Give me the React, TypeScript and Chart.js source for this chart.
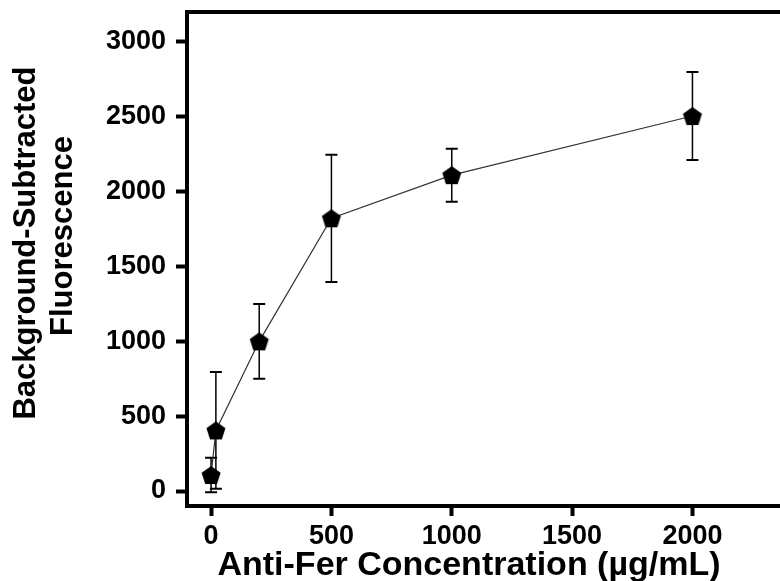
import React, { useEffect, useRef } from "react";
import { Chart, registerables } from "chart.js";
Chart.register(...registerables);

const concentrations = [0, 20, 200, 500, 1000, 2000];
const fluorescence = [107, 405, 1000, 1822, 2110, 2505];
const errors = [115, 390, 250, 425, 177, 294];
const xTickValues = [0, 500, 1000, 1500, 2000];
const yTickValues = [0, 500, 1000, 1500, 2000, 2500, 3000];
const xRange = [-100, 2500];
const yRange = [-100, 3200];
const xTitle = "Anti-Fer Concentration (µg/mL)";
const yTitleLines = ["Background-Subtracted", "Fluorescence"];

const FONT = '"Liberation Sans", Arial, sans-serif';

function makePentagon(r: number): HTMLCanvasElement {
  const size = Math.ceil(r * 2 + 4);
  const c = document.createElement("canvas");
  c.width = size;
  c.height = size;
  const ctx = c.getContext("2d")!;
  const cx = size / 2;
  const cy = size / 2 + r * 0.09;
  ctx.beginPath();
  for (let i = 0; i < 5; i++) {
    const a = -Math.PI / 2 + (i * 2 * Math.PI) / 5;
    const px = cx + r * Math.cos(a);
    const py = cy + r * Math.sin(a);
    if (i === 0) ctx.moveTo(px, py);
    else ctx.lineTo(px, py);
  }
  ctx.closePath();
  ctx.fillStyle = "#000";
  ctx.fill();
  return c;
}

const errorBarPlugin = {
  id: "errorBars",
  beforeDatasetsDraw(chart: any) {
    const ctx = chart.ctx;
    const xs = chart.scales.x;
    const ys = chart.scales.y;
    ctx.save();
    ctx.strokeStyle = "#000";
    concentrations.forEach((c, i) => {
      const x = xs.getPixelForValue(c);
      const yt = ys.getPixelForValue(fluorescence[i] + errors[i]);
      const yb = ys.getPixelForValue(fluorescence[i] - errors[i]);
      ctx.lineWidth = 1.5;
      ctx.beginPath();
      ctx.moveTo(x, yt);
      ctx.lineTo(x, yb);
      ctx.stroke();
      ctx.lineWidth = 2;
      ctx.beginPath();
      ctx.moveTo(x - 6, yt);
      ctx.lineTo(x + 6, yt);
      ctx.moveTo(x - 6, yb);
      ctx.lineTo(x + 6, yb);
      ctx.stroke();
    });
    ctx.restore();
  },
};

const framePlugin = {
  id: "frameAndTitles",
  afterDraw(chart: any) {
    const ctx = chart.ctx;
    const a = chart.chartArea;
    ctx.save();
    ctx.strokeStyle = "#000";
    ctx.lineWidth = 4;
    ctx.beginPath();
    ctx.moveTo(a.left - 2, a.top);
    ctx.lineTo(a.right, a.top);
    ctx.lineTo(a.right, a.bottom);
    ctx.stroke();

    ctx.fillStyle = "#000";
    ctx.font = `bold 34px ${FONT}`;
    ctx.textAlign = "center";
    ctx.textBaseline = "alphabetic";
    ctx.fillText(xTitle, 469, 575);

    ctx.font = `bold 31px ${FONT}`;
    const yPos = [
      [35, 243],
      [72, 236],
    ];
    yTitleLines.forEach((t, i) => {
      ctx.save();
      ctx.translate(yPos[i][0], yPos[i][1]);
      ctx.rotate(-Math.PI / 2);
      ctx.fillText(t, 0, 0);
      ctx.restore();
    });
    ctx.restore();
  },
};

export default function App() {
  const ref = useRef<HTMLCanvasElement>(null);
  useEffect(() => {
    if (!ref.current) return;
    const pent = makePentagon(10);
    const chart = new Chart(ref.current, {
      type: "line",
      data: {
        datasets: [
          {
            data: concentrations.map((c, i) => ({ x: c, y: fluorescence[i] })),
            borderColor: "#333",
            borderWidth: 1.2,
            backgroundColor: "#000",
            pointStyle: pent as any,
            pointRadius: 10,
            showLine: true,
            tension: 0,
          },
        ],
      },
      options: {
        animation: false,
        responsive: false,
        devicePixelRatio: 1,
        layout: { padding: { top: 12, right: 2, left: 0, bottom: 0 } },
        plugins: { legend: { display: false }, tooltip: { enabled: false } },
        scales: {
          x: {
            type: "linear",
            min: xRange[0],
            max: xRange[1],
            afterFit: (s: any) => {
              s.height = 75;
              s.paddingLeft = 0;
              s.paddingRight = 0;
            },
            afterBuildTicks: (s: any) => {
              s.ticks = xTickValues.map((v) => ({ value: v }));
            },
            grid: {
              display: true,
              drawOnChartArea: false,
              drawTicks: true,
              tickLength: 10,
              tickWidth: 4,
              tickColor: "#000",
            },
            border: { display: true, width: 4, color: "#000" },
            ticks: {
              color: "#000",
              font: { family: FONT, size: 27, weight: "bold" },
              padding: 4,
              maxRotation: 0,
              autoSkip: false,
              callback: (v: any) => String(v),
            },
          },
          y: {
            type: "linear",
            min: yRange[0],
            max: yRange[1],
            afterFit: (s: any) => {
              s.width = 187;
              s.paddingTop = 0;
              s.paddingBottom = 0;
            },
            afterBuildTicks: (s: any) => {
              s.ticks = yTickValues.map((v) => ({ value: v }));
            },
            grid: {
              display: true,
              drawOnChartArea: false,
              drawTicks: true,
              tickLength: 11,
              tickWidth: 4,
              tickColor: "#000",
            },
            border: { display: true, width: 4, color: "#000" },
            ticks: {
              color: "#000",
              font: { family: FONT, size: 27, weight: "bold" },
              padding: 10,
              autoSkip: false,
              callback: (v: any) => String(v),
            },
          },
        },
      },
      plugins: [errorBarPlugin, framePlugin],
    });
    return () => chart.destroy();
  }, []);

  return (
    <div
      style={{
        position: "absolute",
        left: 0,
        top: 0,
        width: 780,
        height: 581,
        overflow: "hidden",
        background: "#fff",
      }}
    >
      <canvas ref={ref} width={824} height={581} style={{ display: "block" }} />
    </div>
  );
}
